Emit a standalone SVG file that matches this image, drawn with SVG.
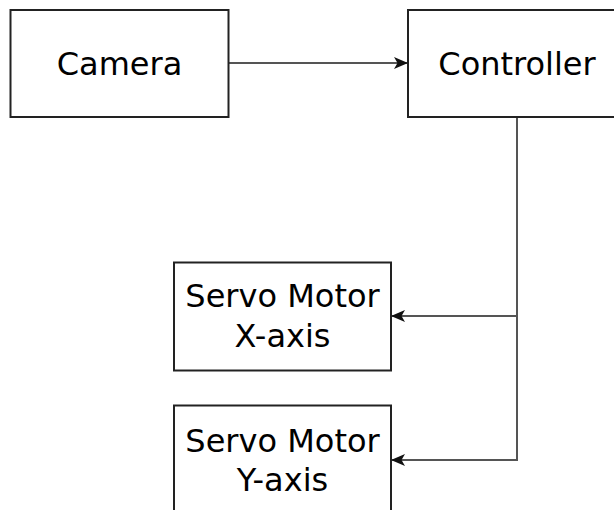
<svg xmlns="http://www.w3.org/2000/svg" width="614" height="510" viewBox="0 0 614 510">
<style>
.box{fill:#fff;stroke:#222;stroke-width:2}
.lbl{font-family:"DejaVu Sans",Verdana,sans-serif;font-size:32px;fill:#000;text-anchor:middle}
.edge{fill:none;stroke:#555;stroke-width:2}
</style>
<defs>
<marker id="arr" markerUnits="userSpaceOnUse" markerWidth="14" markerHeight="12" viewBox="0 0 14 12" refX="14" refY="6" orient="auto">
<path d="M0,0 L14,6 L0,12 L3.5,6 Z" fill="#111"/>
</marker>
</defs>
<rect width="614" height="510" fill="#fff"/>
<g id="connectors">
<path class="edge" d="M229,63 H408" marker-end="url(#arr)"/>
<path class="edge" d="M517,117 V316 H391" marker-end="url(#arr)"/>
<path class="edge" d="M517,117 V460 H391" marker-end="url(#arr)"/>
</g>
<g id="camera">
<rect class="box" x="10.5" y="10" width="218" height="107"/>
<text class="lbl" x="119.5" y="75">Camera</text>
</g>
<g id="controller">
<rect class="box" x="408" y="10" width="218" height="107"/>
<text class="lbl" x="517" y="75">Controller</text>
</g>
<g id="servo-x">
<rect class="box" x="174" y="262.5" width="217" height="108"/>
<text class="lbl" x="282.5" y="306.7">Servo Motor</text>
<text class="lbl" x="282.5" y="346.7">X-axis</text>
</g>
<g id="servo-y">
<rect class="box" x="174" y="405.5" width="217" height="108"/>
<text class="lbl" x="282.5" y="451.7">Servo Motor</text>
<text class="lbl" x="282.5" y="490.7">Y-axis</text>
</g>
</svg>
